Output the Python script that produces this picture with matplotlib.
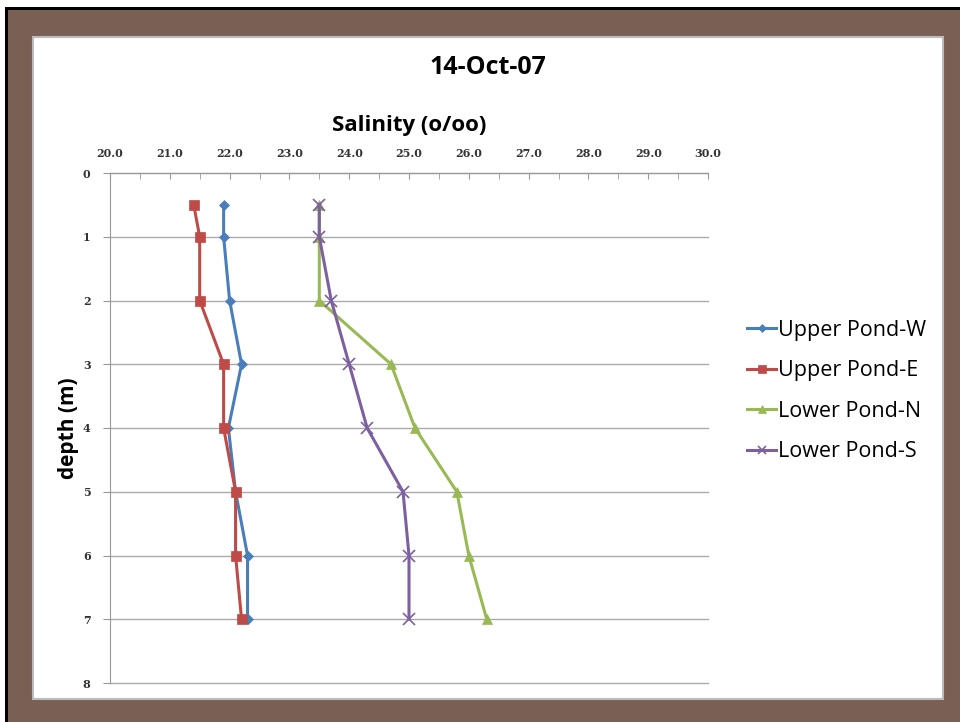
import matplotlib.pyplot as plt
from matplotlib.patches import Rectangle
from matplotlib.ticker import MultipleLocator

# Вхідні дані
depth = [0.5, 1, 2, 3, 4, 5, 6, 7]
upper_w = [21.9, 21.9, 22.0, 22.2, 21.98, 22.1, 22.3, 22.3]
upper_e = [21.4, 21.5, 21.5, 21.9, 21.9, 22.1, 22.1, 22.2]
lower_n = [23.5, 23.5, 23.5, 24.7, 25.1, 25.8, 26.0, 26.3]
lower_s = [23.5, 23.5, 23.7, 24.0, 24.3, 24.9, 25.0, 25.0]

names = ['Upper Pond-W', 'Upper Pond-E', 'Lower Pond-N', 'Lower Pond-S']
colors = ['#4A7EBB', '#BE4B48', '#98B954', '#7D60A0']
markers = ['D', 's', '^', 'x']
msizes = [5, 7, 7, 8]

W, H = 960, 722
fig = plt.figure(figsize=(9.6, 7.22), dpi=100)

# рамка
fig.patches.append(Rectangle((5 / W, 0), 1, 1 - 7 / H, transform=fig.transFigure,
                             facecolor='black', edgecolor='none', zorder=-3))
fig.patches.append(Rectangle((8 / W, 0), 1, 1 - 10 / H, transform=fig.transFigure,
                             facecolor='#7A5F55', edgecolor='none', zorder=-2))
fig.patches.append(Rectangle((33 / W, 1 - 699 / H), (943 - 33) / W, (699 - 37) / H,
                             transform=fig.transFigure, facecolor='white',
                             edgecolor='#BBBBBB', linewidth=1.5, zorder=-1))

ax = fig.add_axes([110 / W, 1 - 683 / H, (708 - 110) / W, (683 - 173) / H])
ax.set_facecolor('none')

for vals, name, c, m, ms in zip([upper_w, upper_e, lower_n, lower_s], names, colors, markers, msizes):
    ax.plot(vals, depth, color=c, marker=m, markersize=ms, linewidth=2.2,
            markeredgewidth=1.2 if m == 'x' else 0.5, label=name, clip_on=False)

ax.set_xlim(20, 30)
ax.set_ylim(8, 0)
ax.xaxis.tick_top()
ax.xaxis.set_label_position('top')
ax.xaxis.set_major_locator(MultipleLocator(1))
ax.xaxis.set_minor_locator(MultipleLocator(0.5))
ax.yaxis.set_major_locator(MultipleLocator(1))
ax.xaxis.set_major_formatter(lambda v, p: f"{v:.1f}")

ax.tick_params(axis='x', which='both', direction='in', length=4, color='#999999', pad=10)
ax.tick_params(axis='y', direction='out', length=5, color='#999999', pad=9)
for lab in ax.get_xticklabels() + ax.get_yticklabels():
    lab.set_family('DejaVu Serif')
    lab.set_fontweight('bold')
    lab.set_fontsize(8)
    lab.set_color('#333333')

for s in ['right', 'bottom']:
    ax.spines[s].set_visible(False)
for s in ['top', 'left']:
    ax.spines[s].set_color('#999999')
ax.yaxis.grid(True, color='#AAAAAA', linewidth=1)
for gl in ax.get_ygridlines():
    gl.set_clip_on(False)
ax.set_axisbelow(True)

ax.set_xlabel('Salinity (o/oo)', fontsize=16, fontweight='bold', family='Open Sans', labelpad=12)
ax.set_ylabel('depth (m)', fontsize=15, fontweight='bold', family='Open Sans', labelpad=3)
fig.text(488 / W, 1 - 67 / H, '14-Oct-07', ha='center', va='center',
         fontsize=18, fontweight='bold', family='Open Sans')

ax.legend(loc='center left', bbox_to_anchor=(728 / W, 1 - 391 / H), bbox_transform=fig.transFigure,
          frameon=False, prop={'family': 'Open Sans', 'size': 15.5}, handlelength=1.35,
          handletextpad=0.05, labelspacing=0.9, markerscale=0.8)

fig.savefig('out.png', dpi=100)
